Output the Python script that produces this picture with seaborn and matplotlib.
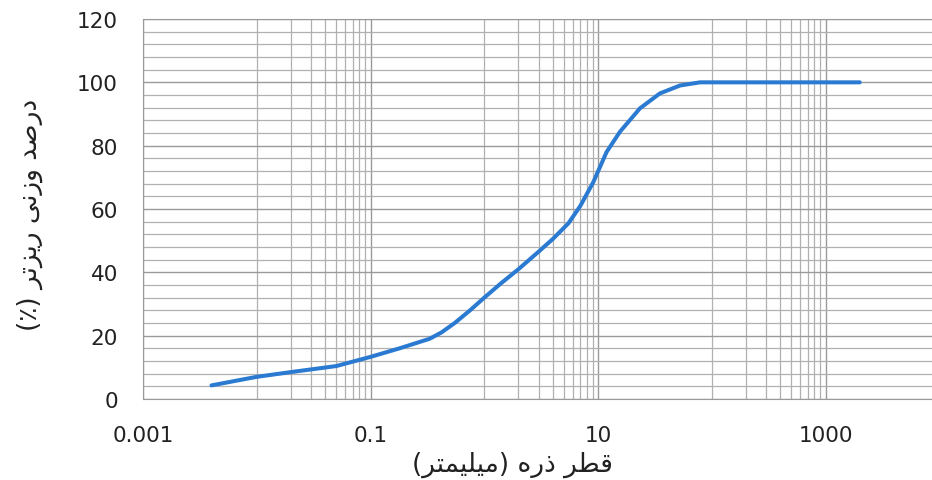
import matplotlib
matplotlib.use("Agg")
import matplotlib.pyplot as plt
from matplotlib.ticker import NullFormatter
import seaborn as sns
import numpy as np

# grain size (mm) and percent finer
size_mm = [0.004, 0.01, 0.02, 0.05, 0.1, 0.18, 0.33, 0.42, 0.55, 0.75, 1.0,
           1.4, 2.0, 3.0, 4.0, 5.5, 7.0, 9.1, 11.9, 15.6, 23.4, 35, 52.6, 79,
           120, 2000]
passing = [4.3, 7.0, 8.5, 10.4, 13.3, 16.0, 19.0, 21.0, 24.0, 28.0, 32.0,
           36.5, 41.0, 46.5, 50.5, 55.5, 61.0, 68.5, 78, 84.4, 91.8, 96.5, 99,
           100, 100, 100]

x_ticks = [0.001, 0.1, 10, 1000]
x_labels = ["0.001", "0.1", "10", "1000"]
y_ticks = [0, 20, 40, 60, 80, 100, 120]

# Persian labels written with presentation forms in visual (left-to-right) order
y_title = ("(\u066A) "
           "\uFEAE\uFE97\uFEB0\uFEF3\uFEAD "
           "\uFEF0\uFEE7\uFEAF\uFEED "
           "\uFEAA\uFEBB\uFEAD\uFEA9")
x_title = ("(\uFEAE\uFE98\uFEE4\uFEF4\uFEE0\uFEF4\uFEE3) "
           "\uFEE9\uFEAD\uFEAB "
           "\uFEAE\uFEC4\uFED7")

sns.set_style("white")
plt.rcParams['font.family'] = ['DejaVu Sans', 'Noto Sans']

fig = plt.figure(figsize=(9.32, 4.81), dpi=100)
ax = fig.add_axes([143/932, 1 - 400/481, 1 - 143/932, 380/481])

sns.lineplot(x=size_mm, y=passing, ax=ax, color="#2A7AD2", linewidth=2.9,
             estimator=None, sort=False)
for ln in ax.lines:
    ln.set_solid_joinstyle("round")
    ln.set_solid_capstyle("round")

ax.set_xscale("log")
ax.set_xlim(0.001, 10 ** (-3 + (932 - 143) / 113.75))
ax.set_ylim(0, 120)

ax.set_xticks(x_ticks)
ax.set_xticklabels(x_labels)
minor_x = [m * 10.0 ** e for e in (-2, 0, 2) for m in range(1, 10)]
ax.set_xticks(minor_x, minor=True)
ax.xaxis.set_minor_formatter(NullFormatter())
ax.set_yticks(y_ticks)
ax.set_yticks(np.arange(0, 121, 4), minor=True)

ax.grid(True, which="major", color="#9a9a9a", linewidth=1.0)
ax.grid(True, which="minor", color="#b0b0b0", linewidth=0.9)
ax.tick_params(axis="both", which="major", direction="out", length=5,
               color="#888888", labelsize=15.5, labelcolor="#222222")
ax.tick_params(axis="x", which="major", pad=14)
ax.tick_params(axis="y", which="major", pad=13)
ax.tick_params(which="minor", length=0)

for side in ["left", "top", "bottom"]:
    ax.spines[side].set_color("#9a9a9a")
ax.spines["right"].set_visible(False)

ax.set_xlabel(x_title, fontsize=19, color="#222222")
ax.xaxis.set_label_coords((512 - 143) / (932 - 143), -(452 - 400) / 380)
ax.set_ylabel(y_title, fontsize=19, color="#222222")
ax.yaxis.set_label_coords(-(143 - 43) / (932 - 143), (400 - 215) / 380)

fig.savefig("out.png", dpi=100)
